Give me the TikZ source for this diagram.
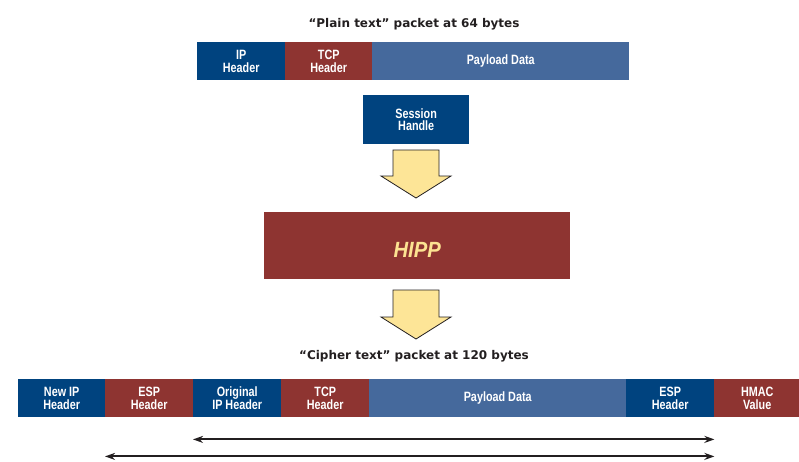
\documentclass[tikz,border=0pt]{standalone}
\usepackage{fontspec}
\setmainfont{Liberation Sans}
\newfontfamily\condfont[FakeStretch=0.8]{Liberation Sans}
\newfontfamily\hippfont[FakeStretch=0.92]{Liberation Sans}
\newfontfamily\titlefont{DejaVu Sans}
\usetikzlibrary{arrows.meta,calc}

\definecolor{hdrblue}{HTML}{00437F}
\definecolor{hdrred}{HTML}{8E3431}
\definecolor{paybl}{HTML}{45699C}
\definecolor{arrowfill}{HTML}{FDE597}
\definecolor{hipptext}{HTML}{FCE392}
\definecolor{inkdark}{HTML}{231F20}

\tikzset{
  field/.style={draw=none, inner sep=0pt, minimum height=38pt, anchor=north west,
    text=white, align=center, font=\condfont\bfseries\fontsize{13.5}{12.8}\selectfont},
  bluefield/.style={field, fill=hdrblue},
  redfield/.style={field, fill=hdrred},
  payfield/.style={field, fill=paybl},
  title/.style={inner sep=0pt, text=inkdark, font=\titlefont\bfseries\fontsize{12}{12}\selectfont},
  blockarrow/.style={draw=inkdark, line width=0.8pt, fill=arrowfill, line join=miter},
  span/.style={draw=inkdark, line width=1.9pt, {Stealth[length=10pt,width=7pt]}-{Stealth[length=10pt,width=7pt]}}
}

\begin{document}
\begin{tikzpicture}[x=1pt,y=-1pt]
\useasboundingbox (0,0) rectangle (799,461);

% plain text packet
\node[title] (ptitle) at (414,24) {“Plain text” packet at 64 bytes};
\node[bluefield, minimum width=88pt] (ip) at (197,42) {IP\\Header};
\node[redfield, minimum width=87pt] (tcp) at (285,42) {TCP\\Header};
\node[payfield, minimum width=257pt] (pay) at (372,42) {Payload Data};

% session handle
\node[bluefield, minimum width=106pt, minimum height=49pt] (sess) at (363,95) {Session\\Handle};

% processing block
\node[fill=hdrred, inner sep=0pt, minimum width=306pt, minimum height=67pt, anchor=north west,
  text height=23pt, text depth=0pt,
  text=hipptext, font=\hippfont\bfseries\itshape\fontsize{22}{22}\selectfont] (hipp) at (264,212)
  {HIPP};

% block arrows
\draw[blockarrow] (393,150) -- (439,150) -- (439,176) -- (451,176) -- (416,198)
  -- (381,176) -- (393,176) -- cycle;
\draw[blockarrow] (393,290) -- (439,290) -- (439,317) -- (451,317) -- (416,339)
  -- (381,317) -- (393,317) -- cycle;

% cipher text packet
\node[title] (ctitle) at (414,356) {“Cipher text” packet at 120 bytes};
\node[bluefield, minimum width=87pt] (newip) at (18,379) {New IP\\Header};
\node[redfield, minimum width=88pt] (esp1) at (105,379) {ESP\\Header};
\node[bluefield, minimum width=88pt] (orig) at (193,379) {Original\\IP Header};
\node[redfield, minimum width=88pt] (tcp2) at (281,379) {TCP\\Header};
\node[payfield, minimum width=257pt] (pay2) at (369,379) {Payload Data};
\node[bluefield, minimum width=88pt] (esp2) at (626,379) {ESP\\Header};
\node[redfield, minimum width=86pt] (hmac) at (714,379) {HMAC\\Value};

% coverage spans
\draw[span] ([yshift=-22pt]orig.south west) -- ([yshift=-22pt]esp2.south east);
\draw[span] ([yshift=-39pt]esp1.south west) -- ([yshift=-39pt]esp2.south east);
\end{tikzpicture}
\end{document}
